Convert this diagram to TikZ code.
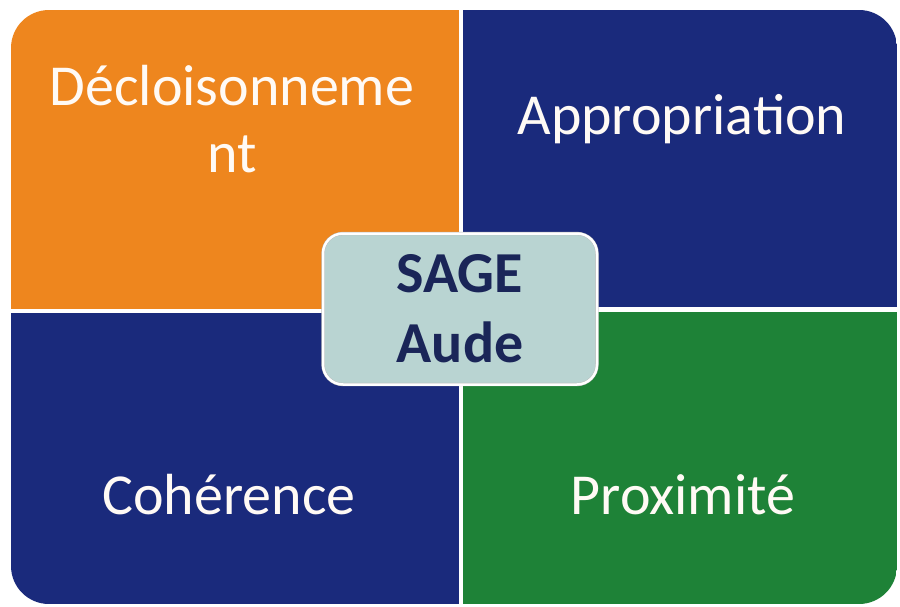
\documentclass[tikz,border=0pt]{standalone}
\usepackage{fontspec}
\setmainfont{Carlito}
\definecolor{quadorange}{HTML}{EE861E}
\definecolor{quadblue}{HTML}{1A2A7C}
\definecolor{quadgreen}{HTML}{1E8237}
\definecolor{sagefill}{HTML}{B9D4D2}
\definecolor{sagetext}{HTML}{1A2558}
\tikzset{
  quadlabel/.style={text=white!96!orange, font=\fontsize{58}{67}\selectfont, align=center, inner sep=0pt},
  sagebox/.style={rounded corners=20pt, fill=sagefill, draw=gray!55, double=white, double distance=2.5pt,
    text=sagetext, font=\bfseries\fontsize{58}{70}\selectfont, align=center,
    minimum width=274pt, minimum height=151pt}
}
\begin{document}
\begin{tikzpicture}[x=1pt,y=-1pt]
  \useasboundingbox (0,0) rectangle (900,607);
  % Quadrants
  \begin{scope}
    \clip[rounded corners=38pt] (11,10) rectangle (897,604);
    \fill[quadorange] (11,10) rectangle (459,309);
    \fill[quadblue] (463,10) rectangle (897,307);
    \fill[quadblue] (11,313) rectangle (459,604);
    \fill[quadgreen] (463,312) rectangle (897,604);
  \end{scope}
  % Centre box
  \node[sagebox] (sage) at (460,309) {SAGE\\Aude};
  % Labels
  \node[quadlabel, anchor=base] (decl) at (232,172) {Décloisonneme\\nt};
  \node[quadlabel, anchor=base] (appro) at (682,135) {Appropriation};
  \node[quadlabel, anchor=base] (coher) at (229,514) {Cohérence};
  \node[quadlabel, anchor=base] (proxi) at (683,514) {Proximité};
\end{tikzpicture}
\end{document}
